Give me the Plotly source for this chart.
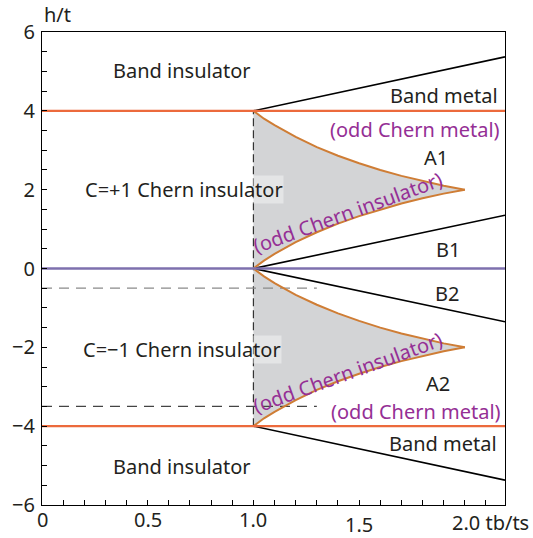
import plotly.graph_objects as go

# ---------------- data ----------------
x_range = [0, 2.19]
y_range = [-6, 6]

edge_x = [1.0, 1.05, 1.1, 1.2, 1.3, 1.4, 1.5, 1.6, 1.7, 1.8, 1.9, 2.0]
a1_top = [4.0, 3.8, 3.64, 3.34, 3.08, 2.86, 2.67, 2.5, 2.35, 2.22, 2.10, 2.0]
a1_bot = [0.0, 0.2, 0.37, 0.67, 0.92, 1.14, 1.33, 1.5, 1.65, 1.78, 1.9, 2.0]
a2_top = [0.0, -0.2, -0.37, -0.67, -0.92, -1.14, -1.33, -1.5, -1.65, -1.78, -1.9, -2.0]
a2_bot = [-4.0, -3.8, -3.64, -3.34, -3.08, -2.86, -2.67, -2.5, -2.35, -2.22, -2.10, -2.0]

metal_x = [1.0, 2.19]
metal_up = [4.0, 5.37]
b1_line = [0.0, 1.35]
b2_line = [0.0, -1.35]
metal_dn = [-4.0, -5.37]

flat_x = [0, 2.19]
flat_levels = [4, 0, -4]

dash_v_x = [1.0, 1.0]
dash_v_y = [-4.0, 4.0]
dash_h_x = [0, 1.3]
dash_h_levels = [-0.5, -3.5]

black_labels = ["Band insulator", "Band metal", "A1", "C=+1 Chern insulator", "B1",
                "B2", "C=\u22121 Chern insulator", "A2", "Band metal", "Band insulator"]
black_x = [0.661, 1.90, 1.865, 0.672, 1.92, 1.915, 0.662, 1.875, 1.895, 0.661]
black_y = [5.03, 4.39, 2.82, 2.0, 0.47, -0.64, -2.06, -2.93, -4.43, -5.03]

purple_labels = ["(odd Chern metal)", "(odd Chern insulator)", "(odd Chern insulator)", "(odd Chern metal)"]
purple_x = [1.766, 1.445, 1.445, 1.771]
purple_y = [3.53, 1.42, -2.64, -3.62]
purple_angle = [0, -20, -20, 0]

xtick_vals = [0, 0.5, 1.0, 1.5, 2.0]
xtick_text = ["0", "0.5", "1.0", "1.5", "2.0 tb/ts"]
ytick_vals = [-6, -4, -2, 0, 2, 4, 6]

# ---------------- styles ----------------
FONT = "Noto Sans"
FS = 20
TXT = "#231F20"
PURPLE = "#952F95"
ORANGE_H = "#EC6A3C"
PURPLE_H = "#7E70AE"
ORANGE_C = "#CF7D35"
GRAY = "#D3D4D6"

fig = go.Figure()

# shaded regions
fig.add_trace(go.Scatter(x=edge_x + edge_x[::-1], y=a1_top + a1_bot[::-1], fill="toself",
                         fillcolor=GRAY, line=dict(width=0), mode="lines", hoverinfo="skip"))
fig.add_trace(go.Scatter(x=edge_x + edge_x[::-1], y=a2_top + a2_bot[::-1], fill="toself",
                         fillcolor=GRAY, line=dict(width=0), mode="lines", hoverinfo="skip"))

# dashed guides
fig.add_trace(go.Scatter(x=dash_v_x, y=dash_v_y, mode="lines",
                         line=dict(color="#333333", width=1.2, dash="8px,4px")))
dash_cols = ["#8a8a8a", "#444444"]
for lv, c in zip(dash_h_levels, dash_cols):
    fig.add_trace(go.Scatter(x=dash_h_x, y=[lv, lv], mode="lines",
                             line=dict(color=c, width=1.2, dash="10px,7px")))

# black straight boundaries
for yy in [metal_up, b1_line, b2_line, metal_dn]:
    fig.add_trace(go.Scatter(x=metal_x, y=yy, mode="lines", line=dict(color="black", width=1.6)))

# orange curved boundaries
for yy in [a1_top, a1_bot, a2_top, a2_bot]:
    fig.add_trace(go.Scatter(x=edge_x, y=yy, mode="lines", line=dict(color=ORANGE_C, width=2)))

# horizontal levels
for lv in flat_levels:
    col = PURPLE_H if lv == 0 else ORANGE_H
    fig.add_trace(go.Scatter(x=flat_x, y=[lv, lv], mode="lines", line=dict(color=col, width=2.3)))

ann = []
for t, x, y in zip(black_labels, black_x, black_y):
    d = dict(x=x, y=y, xref="x", yref="y", text=t, showarrow=False,
             font=dict(family=FONT, size=FS, color=TXT))
    if "Chern" in t:
        d["bgcolor"] = "rgba(255,255,255,0.4)"
        d["borderpad"] = 0
    ann.append(d)
for t, x, y, a in zip(purple_labels, purple_x, purple_y, purple_angle):
    ann.append(dict(x=x, y=y, xref="x", yref="y", text=t, showarrow=False, textangle=a,
                    font=dict(family=FONT, size=FS, color=PURPLE)))

# x tick labels
xtick_dy = [-0.03, -0.03, -0.03, -0.042, -0.036]
for v, t, dy in zip(xtick_vals, xtick_text, xtick_dy):
    if "tb" in t:
        ann.append(dict(x=v, y=dy, xref="x", yref="paper", text=t, showarrow=False,
                        xanchor="left", xshift=-15, yanchor="middle",
                        font=dict(family=FONT, size=FS, color=TXT)))
    else:
        ann.append(dict(x=v, y=dy, xref="x", yref="paper", text=t, showarrow=False,
                        xanchor="center", yanchor="middle",
                        font=dict(family=FONT, size=FS, color=TXT)))
ann.append(dict(x=0, y=1.037, xref="paper", yref="paper", text="h/t", showarrow=False,
                xanchor="left", yanchor="middle", font=dict(family=FONT, size=FS, color=TXT)))

fig.update_layout(
    width=533, height=538,
    margin=dict(l=40, r=28, t=32, b=33),
    paper_bgcolor="white", plot_bgcolor="white",
    showlegend=False,
    annotations=ann,
    font=dict(family=FONT, size=FS, color=TXT),
)
fig.update_xaxes(range=x_range, showgrid=False, zeroline=False,
                 showline=True, linecolor="black", linewidth=1.2, mirror=True,
                 ticks="inside", ticklen=5, tickcolor="black", tickwidth=1,
                 tick0=0, dtick=0.1, showticklabels=False)
fig.update_yaxes(range=y_range, showgrid=False, zeroline=False,
                 showline=True, linecolor="black", linewidth=1.2, mirror=True,
                 ticks="inside", ticklen=5, tickcolor="black", tickwidth=1,
                 ticklabelstandoff=2,
                 tickvals=[-6 + 0.5 * i for i in range(25)],
                 ticktext=[("\u2212" + str(int(abs(v))) if v < 0 else str(int(v))) if v in ytick_vals else ""
                           for v in [-6 + 0.5 * i for i in range(25)]],
                 tickfont=dict(family=FONT, size=FS, color=TXT))

fig.write_html("out.html")
